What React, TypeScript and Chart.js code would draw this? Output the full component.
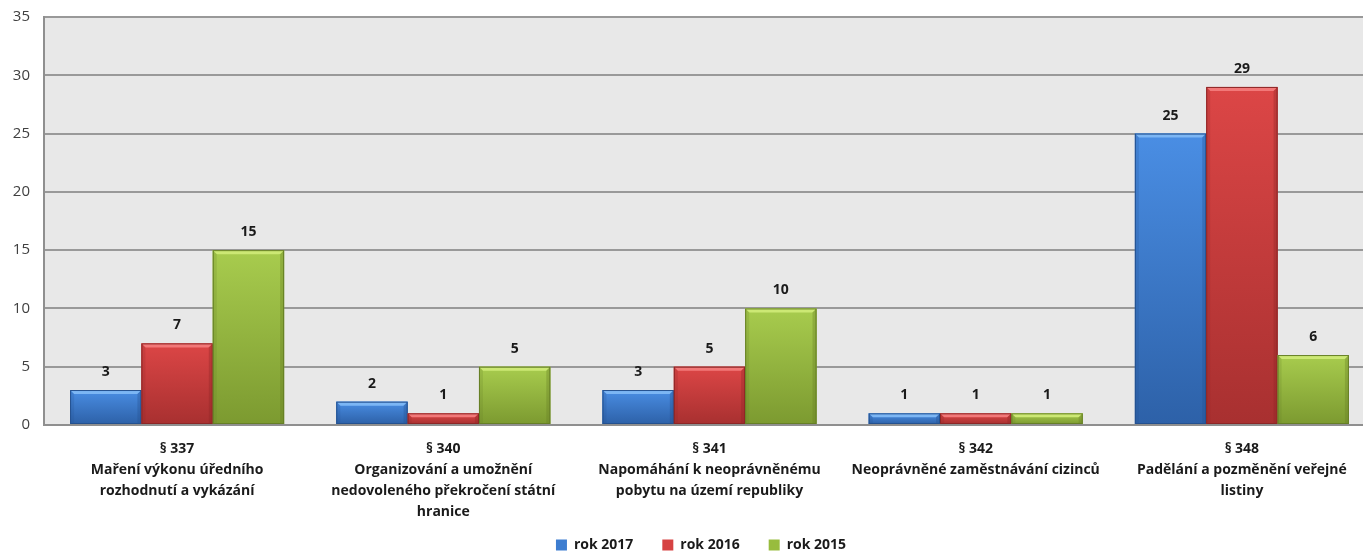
import React, { useEffect, useRef } from "react";
import { Chart, registerables } from "chart.js";

Chart.register(...registerables);

const categories: string[][] = [
  ["§ 337", "Maření výkonu úředního", "rozhodnutí a vykázání"],
  ["§ 340", "Organizování a umožnění", "nedovoleného překročení státní", "hranice"],
  ["§ 341", "Napomáhání k neoprávněnému", "pobytu na území republiky"],
  ["§ 342", "Neoprávněné zaměstnávání cizinců"],
  ["§ 348", "Padělání a pozměnění veřejné", "listiny"],
];
const seriesNames = ["rok 2017", "rok 2016", "rok 2015"];
const values2017 = [3, 2, 3, 1, 25];
const values2016 = [7, 1, 5, 1, 29];
const values2015 = [15, 5, 10, 1, 6];
const yTicks = [0, 5, 10, 15, 20, 25, 30, 35];

const palette = [
  { base: "#3d7dd0", top: "#4a8ee4", bottom: "#2d61a8", bevel: "#7cb6f4", edge: "#24518f" },
  { base: "#d64242", top: "#dc4646", bottom: "#a83030", bevel: "#f27878", edge: "#8c2626" },
  { base: "#98bc3e", top: "#a8cc4e", bottom: "#7c9a30", bevel: "#cce874", edge: "#667f26" },
];

const FONT = "'Open Sans', 'Noto Sans', sans-serif";

const bgPlugin = {
  id: "plotBg",
  beforeDraw(chart: any) {
    const { ctx, chartArea: a } = chart;
    ctx.save();
    ctx.fillStyle = "#e8e8e8";
    ctx.fillRect(a.left, a.top, a.right - a.left, a.bottom - a.top);
    ctx.restore();
  },
};

const barStylePlugin = {
  id: "barStyle",
  afterDatasetsDraw(chart: any) {
    const { ctx } = chart;
    chart.data.datasets.forEach((ds: any, di: number) => {
      const meta = chart.getDatasetMeta(di);
      const p = palette[di];
      meta.data.forEach((bar: any, i: number) => {
        const x0 = bar.x - bar.width / 2;
        const x1 = bar.x + bar.width / 2;
        const y0 = bar.y;
        const y1 = bar.base;
        const h = y1 - y0;
        if (h <= 0) return;
        ctx.save();
        const g = ctx.createLinearGradient(0, y0, 0, y1);
        g.addColorStop(0, p.top);
        g.addColorStop(1, p.bottom);
        ctx.fillStyle = g;
        ctx.fillRect(x0, y0, x1 - x0, h);
        const b = Math.min(4, h / 2);
        ctx.fillStyle = p.bevel;
        ctx.beginPath();
        ctx.moveTo(x0, y0);
        ctx.lineTo(x1, y0);
        ctx.lineTo(x1 - b, y0 + b);
        ctx.lineTo(x0 + b, y0 + b);
        ctx.closePath();
        ctx.fill();
        ctx.globalAlpha = 0.35;
        ctx.fillStyle = p.edge;
        ctx.beginPath();
        ctx.moveTo(x1, y0);
        ctx.lineTo(x1, y1);
        ctx.lineTo(x1 - b, y1);
        ctx.lineTo(x1 - b, y0 + b);
        ctx.closePath();
        ctx.fill();
        ctx.globalAlpha = 0.2;
        ctx.beginPath();
        ctx.moveTo(x0, y0);
        ctx.lineTo(x0 + b, y0 + b);
        ctx.lineTo(x0 + b, y1);
        ctx.lineTo(x0, y1);
        ctx.closePath();
        ctx.fill();
        ctx.globalAlpha = 1;
        ctx.strokeStyle = p.edge;
        ctx.lineWidth = 1;
        ctx.strokeRect(x0 + 0.5, y0 + 0.5, x1 - x0 - 1, h - 1);
        ctx.restore();

        ctx.save();
        ctx.font = `bold 14px ${FONT}`;
        ctx.fillStyle = "#1a1a1a";
        ctx.textAlign = "center";
        ctx.textBaseline = "middle";
        ctx.fillText(String(ds.data[i]), bar.x, y0 - 18);
        ctx.restore();
      });
    });
  },
};

export default function App() {
  const ref = useRef<HTMLCanvasElement | null>(null);
  useEffect(() => {
    if (!ref.current) return;
    const seriesValues = [values2017, values2016, values2015];
    const chart = new Chart(ref.current, {
      type: "bar",
      data: {
        labels: categories,
        datasets: seriesNames.map((name, k) => ({
          label: name,
          data: seriesValues[k],
          backgroundColor: palette[k].base,
          borderWidth: 0,
          categoryPercentage: 0.804,
          barPercentage: 1,
        })),
      },
      options: {
        responsive: false,
        animation: false,
        layout: { padding: { top: 17, left: 0, right: 0, bottom: 0 } },
        plugins: {
          tooltip: { enabled: false },
          legend: {
            position: "bottom",
            labels: {
              boxWidth: 11,
              boxHeight: 11,
              padding: 29,
              color: "#1a1a1a",
              font: { family: FONT, size: 14, weight: "bold" },
            },
          },
        },
        scales: {
          x: {
            grid: { display: false, drawTicks: false },
            border: { display: true, color: "#8f8f8f", width: 2 },
            ticks: {
              autoSkip: false,
              maxRotation: 0,
              minRotation: 0,
              padding: 14,
              color: "#1a1a1a",
              font: { family: FONT, size: 14, weight: "bold", lineHeight: 1.5 },
            },
            afterFit: (s: any) => {
              s.height = 84;
              s._computeLabelArea = () => undefined;
            },
          },
          y: {
            min: 0,
            max: 35,
            afterBuildTicks: (s: any) => {
              s.ticks = yTicks.map((v) => ({ value: v }));
            },
            grid: { color: "#999999", lineWidth: 2, drawTicks: false },
            border: { display: true, color: "#8f8f8f", width: 2 },
            ticks: {
              padding: 14,
              color: "#404040",
              font: { family: FONT, size: 15 },
            },
            afterFit: (s: any) => {
              s.width = 44;
              s.paddingTop = 0;
              s.paddingBottom = 0;
            },
          },
          yRight: {
            type: "linear",
            position: "right",
            display: true,
            grid: { display: false, drawTicks: false },
            border: { display: false },
            ticks: { display: false },
            afterFit: (s: any) => {
              s.width = 27;
              s.paddingTop = 0;
              s.paddingBottom = 0;
            },
          },
        },
      } as any,
      plugins: [bgPlugin, barStylePlugin],
    });
    return () => chart.destroy();
  }, []);

  return (
    <div
      style={{
        position: "fixed",
        left: 0,
        top: 0,
        width: 1363,
        height: 554,
        overflow: "hidden",
        background: "#ffffff",
      }}
    >
      <canvas ref={ref} width={1402} height={562} style={{ width: 1402, height: 562, display: "block" }} />
    </div>
  );
}
